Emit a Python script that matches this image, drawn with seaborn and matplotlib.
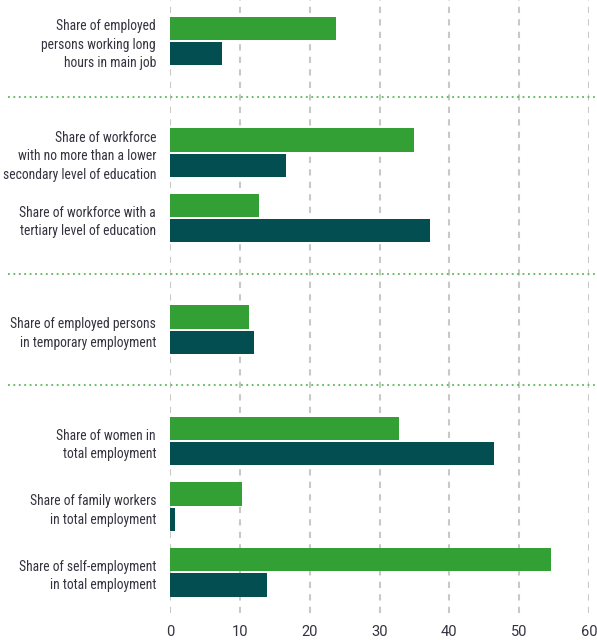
import matplotlib
matplotlib.use("Agg")
import matplotlib.pyplot as plt
import seaborn as sns
import pandas as pd

# ---- data ----
categories = [
    "Share of employed\npersons working long\nhours in main job",
    "Share of workforce\nwith no more than a lower\nsecondary level of education",
    "Share of workforce with a\ntertiary level of education",
    "Share of employed persons\nin temporary employment",
    "Share of women in\ntotal employment",
    "Share of family workers\nin total employment",
    "Share of self-employment\nin total employment",
]
groups = [0, 1, 1, 2, 3, 3, 3]
series_names = ["Agriculture", "Total economy"]
green_values = [23.8, 35.0, 12.8, 11.3, 32.8, 10.3, 54.6]
teal_values = [7.4, 16.6, 37.2, 12.0, 46.4, 0.7, 13.9]
x_ticks = [0, 10, 20, 30, 40, 50, 60]

# ---- layout positions (group gaps) ----
GROUP_GAP = 1.7
positions = []
p = 0.0
for i, g in enumerate(groups):
    if i > 0:
        p += GROUP_GAP if g != groups[i - 1] else 1.0
    positions.append(p)
separators = [(positions[i - 1] + positions[i]) / 2
              for i in range(1, len(groups)) if groups[i] != groups[i - 1]]

df = pd.DataFrame({
    "pos": positions * 2,
    "value": green_values + teal_values,
    "series": [series_names[0]] * len(categories) + [series_names[1]] * len(categories),
})

GREEN = "#33a035"
TEAL = "#024e51"
TEXT = "#33333f"

sns.set_theme(style="white")
plt.rcParams["font.family"] = ["Roboto Condensed", "Liberation Sans Narrow", "Roboto", "DejaVu Sans"]
plt.rcParams["font.stretch"] = "condensed"

fig = plt.figure(figsize=(5.97, 6.40), dpi=100)
ax = fig.add_axes([170 / 597, 1 - 613 / 640, (589 - 170) / 597, 613 / 640])

sns.barplot(data=df, x="value", y="pos", hue="series", orient="y",
            native_scale=True, palette=[GREEN, TEAL], width=0.77, gap=0.08,
            saturation=1, linewidth=0, legend=False, ax=ax, zorder=3,
            errorbar=None)

ax.set_xlim(0, 60)
ax.set_ylim(8.72, -0.625)
ax.set_xticks(x_ticks)
ax.set_xticklabels([str(t) for t in x_ticks], fontsize=10.5, color=TEXT,
                   family=["Roboto", "DejaVu Sans"], fontstretch="normal")
ax.set_yticks(positions)
ax.set_yticklabels(categories, fontsize=9.8, color=TEXT, ha="right",
                   linespacing=1.4)
ax.tick_params(axis="y", length=0, pad=10)
ax.tick_params(axis="x", length=0, pad=9)
ax.set_xlabel("")
ax.set_ylabel("")
for s in ax.spines.values():
    s.set_visible(False)

for t in x_ticks:
    ax.axvline(t, color="#c8c8c8", lw=1.5, ls=(0, (3, 3)), zorder=1)

for s in separators:
    ax.plot([-0.387, 1.02], [s, s], transform=ax.get_yaxis_transform(),
            color="#5cb85c", lw=1.3, ls=(0, (1, 2)), clip_on=False, zorder=2)

fig.savefig("out.png", dpi=100)
